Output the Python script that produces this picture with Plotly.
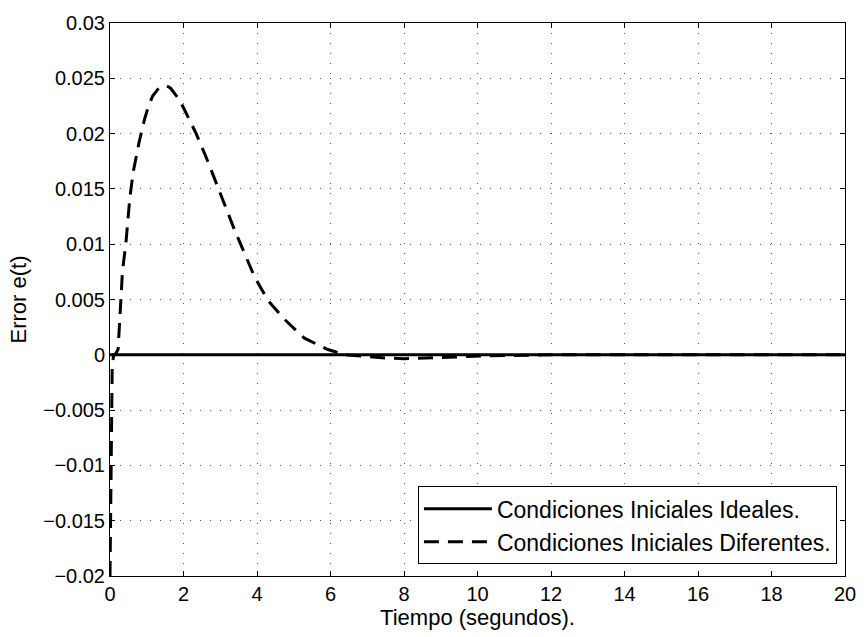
import plotly.graph_objects as go

t_ideal = [0, 2, 4, 6, 8, 10, 12, 14, 16, 18, 20]
e_ideal = [0, 0, 0, 0, 0, 0, 0, 0, 0, 0, 0]

t_diff = [0, 0.02, 0.04, 0.06, 0.1, 0.16, 0.22, 0.26, 0.3, 0.34, 0.43, 0.54, 0.63,
          0.79, 0.94, 1.05, 1.16, 1.3, 1.43, 1.55, 1.65, 1.75, 1.88, 2.02, 2.33, 2.6,
          2.87, 3.14, 3.4, 3.67, 3.94, 4.3, 4.75, 5.29, 5.91, 6.4, 7.0, 7.5, 8.0, 8.7,
          9.4, 10.2, 11, 12, 14, 16, 18, 20]
e_diff = [-0.02, -0.012, -0.005, -0.001, 0.0, 0.0001, 0.0005, 0.003, 0.0055, 0.0076,
          0.0100, 0.0142, 0.0165, 0.0192, 0.0213, 0.0225, 0.0234, 0.0240, 0.0243,
          0.0243, 0.0241, 0.0237, 0.0231, 0.0222, 0.0201, 0.0180, 0.0157, 0.0133,
          0.0112, 0.0091, 0.0070, 0.0049, 0.0032, 0.0015, 0.0005, 0.0, -0.0002,
          -0.0003, -0.00035, -0.0003, -0.0002, -0.0001, -0.00005, 0, 0, 0, 0, 0]

x_ticks = [0, 2, 4, 6, 8, 10, 12, 14, 16, 18, 20]
y_ticks = [-0.02, -0.015, -0.01, -0.005, 0, 0.005, 0.01, 0.015, 0.02, 0.025, 0.03]
y_labels = ["\u22120.02", "\u22120.015", "\u22120.01", "\u22120.005", "0", "0.005",
            "0.01", "0.015", "0.02", "0.025", "0.03"]

fig = go.Figure()
fig.add_trace(go.Scatter(x=t_ideal, y=e_ideal, mode="lines",
                         name="Condiciones Iniciales Ideales.",
                         line=dict(color="black", width=3)))
fig.add_trace(go.Scatter(x=t_diff, y=e_diff, mode="lines",
                         name="Condiciones Iniciales Diferentes.",
                         line=dict(color="black", width=3, dash="15px,9px")))

axis_common = dict(showline=True, linecolor="black", linewidth=1, mirror="allticks",
                   ticks="inside", ticklen=5, tickcolor="black",
                   showgrid=True, gridcolor="#555555", gridwidth=1, griddash="1px,9px",
                   zeroline=False, tickfont=dict(size=20, color="black"))

fig.update_xaxes(range=[0, 20], tickvals=x_ticks,
                 title=dict(text="Tiempo (segundos).", font=dict(size=22, color="black"), standoff=4),
                 **axis_common)
fig.update_yaxes(range=[-0.02, 0.03], tickvals=y_ticks, ticktext=y_labels,
                 title=dict(text="Error e(t)", font=dict(size=22, color="black"), standoff=10),
                 **axis_common)

fig.update_layout(
    width=868, height=637,
    margin=dict(l=110, r=14, t=16, b=61),
    plot_bgcolor="white", paper_bgcolor="white",
    font=dict(family="Liberation Sans, Arial, sans-serif", color="black"),
    legend=dict(x=0.989, y=0.021, xanchor="right", yanchor="bottom",
                bgcolor="white", bordercolor="black", borderwidth=1,
                font=dict(size=23, color="black"), itemwidth=68,
                tracegroupgap=0),
    showlegend=True,
)

fig.write_html("out.html")
